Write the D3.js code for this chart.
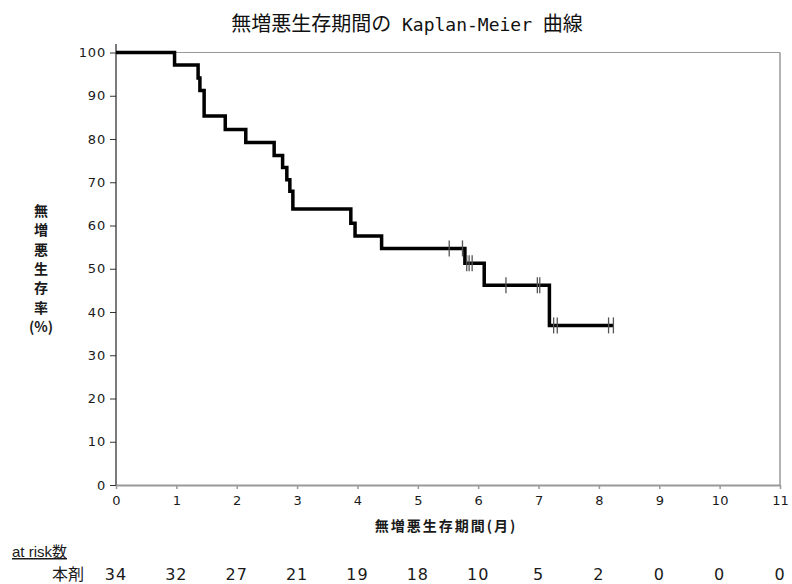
<!DOCTYPE html>
<html><head><meta charset="utf-8">
<script src="https://cdn.jsdelivr.net/npm/d3@7"></script>
<style>
html,body{margin:0;padding:0;background:#fff;}
svg{display:block;}
</style></head>
<body>
<svg id="c" width="792" height="584"></svg>
<script>
// ---- data ----
const stepTimes = [0, 0.97, 1.36, 1.39, 1.46, 1.81, 2.15, 2.62, 2.76, 2.83, 2.88, 2.93, 3.89, 3.96, 4.40, 5.78, 6.10, 7.18];
const stepSurv  = [100, 97.1, 94.1, 91.2, 85.3, 82.2, 79.2, 76.2, 73.4, 70.6, 67.9, 63.8, 60.5, 57.6, 54.7, 51.3, 46.2, 36.9];
const endTime = 8.24;
const censorTimes = [5.52, 5.74, 5.81, 5.85, 5.90, 6.46, 6.98, 7.02, 7.25, 7.31, 8.16, 8.24];
const xTicks = [0,1,2,3,4,5,6,7,8,9,10,11];
const yTicks = [0,10,20,30,40,50,60,70,80,90,100];
const atRisk = [34,32,27,21,19,18,10,5,2,0,0,0];
const titleParts = ["無増悪生存期間の", " Kaplan-Meier ", "曲線"];
const xTitle = "無増悪生存期間(月)";
const yTitleChars = ["無","増","悪","生","存","率","(%)"];
const riskHeader = "at risk数";
const riskRowLabel = "本剤";

const svg = d3.select("#c");
const x = d3.scaleLinear().domain([0,11]).range([116,780]);
const y = d3.scaleLinear().domain([0,100]).range([485,52.5]);

// title
const t = svg.append("text").attr("x",407).attr("y",31).attr("text-anchor","middle")
  .attr("fill","#111").style("font-size","20px");
t.append("tspan").style("font-family","'Noto Sans CJK JP'").text(titleParts[0]);
t.append("tspan").style("font-family","'DejaVu Sans Mono'").style("font-size","18px").attr("xml:space","preserve").text(titleParts[1]);
t.append("tspan").style("font-family","'Noto Sans CJK JP'").text(titleParts[2]);

// frame (top / right)
svg.append("line").attr("x1",x(0)).attr("x2",x(11)).attr("y1",y(100)).attr("y2",y(100)).attr("stroke","#999").attr("stroke-width",1.2);
svg.append("line").attr("x1",x(11)).attr("x2",x(11)).attr("y1",y(100)).attr("y2",y(0)).attr("stroke","#999").attr("stroke-width",1.5);

// x axis
const xa = svg.append("g").attr("transform",`translate(0,${y(0)})`)
  .call(d3.axisBottom(x).tickValues(xTicks).tickSize(4).tickPadding(7).tickSizeOuter(0).tickFormat(d3.format("d")));
xa.select(".domain").attr("stroke","#999").attr("stroke-width",2);
xa.selectAll(".tick line").attr("stroke","#999").attr("stroke-width",1.5);
xa.selectAll(".tick text").attr("fill","#1a1a1a").style("font-family","'DejaVu Sans'").style("font-size","13px");

// y axis
const ya = svg.append("g").attr("transform",`translate(${x(0)},0)`)
  .call(d3.axisLeft(y).tickValues(yTicks).tickSize(6).tickPadding(4).tickSizeOuter(0));
ya.select(".domain").remove();
ya.selectAll(".tick line").attr("stroke","#333");
ya.selectAll(".tick text").attr("fill","#1a1a1a").style("font-family","'DejaVu Sans'").style("font-size","13px").style("letter-spacing","0.8px");
svg.append("line").attr("x1",x(0)).attr("x2",x(0)).attr("y1",44).attr("y2",y(0)).attr("stroke","#222").attr("stroke-width",1.2);

// KM curve
const pts = [];
stepTimes.forEach((tm,i)=>{
  if(i>0) pts.push([tm, stepSurv[i-1]]);
  pts.push([tm, stepSurv[i]]);
});
pts.push([endTime, stepSurv[stepSurv.length-1]]);
svg.append("path").datum(pts)
  .attr("d", d3.line().x(d=>x(d[0])).y(d=>y(d[1])))
  .attr("fill","none").attr("stroke","#000").attr("stroke-width",3.5).attr("stroke-linejoin","miter");

function survAt(tm){
  let s = 100;
  for(let i=0;i<stepTimes.length;i++){ if(stepTimes[i] <= tm) s = stepSurv[i]; }
  return s;
}
svg.append("g").selectAll("line").data(censorTimes).join("line")
  .attr("x1",d=>x(d)).attr("x2",d=>x(d))
  .attr("y1",d=>y(survAt(d))-8).attr("y2",d=>y(survAt(d))+8)
  .attr("stroke","#555").attr("stroke-width",1.3);

// axis titles
svg.append("text").attr("x",446).attr("y",531).attr("text-anchor","middle")
  .style("font-family","'Noto Sans CJK JP'").style("font-weight","bold").style("font-size","14px")
  .style("letter-spacing","2px").attr("fill","#1a1a1a").text(xTitle);

svg.append("g").selectAll("text").data(yTitleChars).join("text")
  .attr("x",41).attr("y",(d,i)=>216 + i*19.3).attr("text-anchor","middle")
  .style("font-family","'Noto Sans CJK JP'").style("font-weight","bold").style("font-size","14px")
  .attr("fill","#1a1a1a").text(d=>d);

// at risk table
svg.append("text").attr("x",12).attr("y",557)
  .style("font-family","'Liberation Sans','Noto Sans CJK JP'").style("font-size","15px")
  .style("text-decoration","underline").attr("fill","#1a1a1a").text(riskHeader);
svg.append("text").attr("x",84).attr("y",580).attr("text-anchor","end")
  .style("font-family","'Noto Sans CJK JP'").style("font-size","16px").attr("fill","#1a1a1a").text(riskRowLabel);
svg.append("g").selectAll("text").data(atRisk).join("text")
  .attr("x",(d,i)=>x(xTicks[i])).attr("y",580).attr("text-anchor","middle")
  .style("font-family","'DejaVu Sans'").style("font-size","16px").style("letter-spacing","1px")
  .attr("fill","#1a1a1a").text(d=>d);
</script>
</body></html>
